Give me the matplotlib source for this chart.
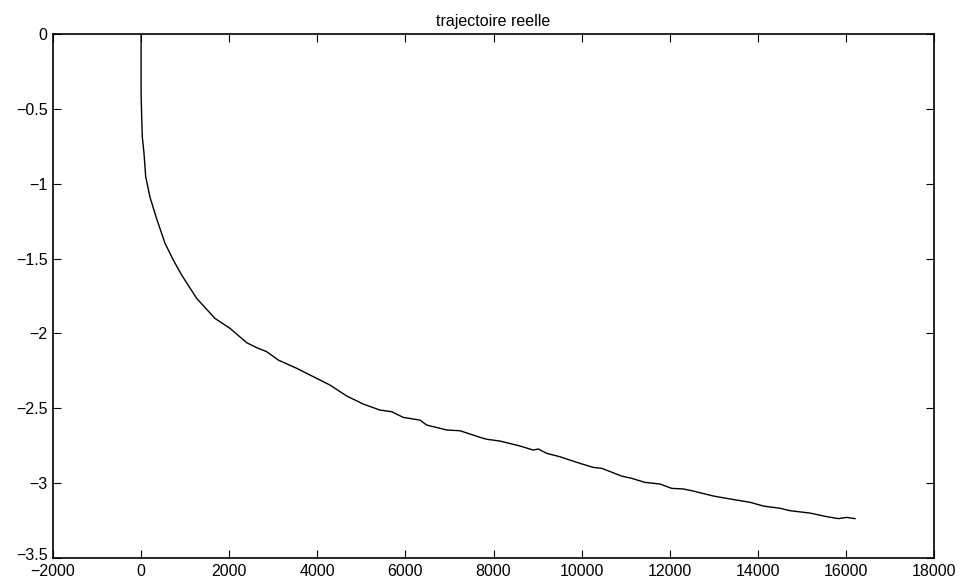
import matplotlib
matplotlib.use('agg')
import matplotlib.pyplot as plt
from matplotlib.transforms import ScaledTranslation

plt.rcParams['font.family'] = ['Liberation Sans', 'DejaVu Sans']

# points (x = step, y = position)
x_pts = [0, 0, 13, 27, 66, 104, 202, 354, 543, 731, 921, 1262, 1678, 2018,
         2397, 2624, 2851, 3115, 3532, 3910, 4288, 4667, 5045, 5423, 5689,
         5953, 6331, 6484, 6937, 7240, 7693, 7846, 8147, 8601, 8903, 9017,
         9207, 9510, 9964, 10266, 10456, 10910, 11137, 11439, 11780, 12046,
         12309, 12536, 12990, 13294, 13823, 14125, 14504, 14731, 15185,
         15564, 15828, 16017, 16207]
y_pts = [0, -0.40, -0.55, -0.686, -0.797, -0.953, -1.09, -1.235, -1.398,
         -1.51, -1.61, -1.766, -1.90, -1.966, -2.062, -2.095, -2.122, -2.178,
         -2.233, -2.289, -2.345, -2.418, -2.472, -2.512, -2.523, -2.561,
         -2.579, -2.612, -2.645, -2.650, -2.694, -2.707, -2.719, -2.752,
         -2.779, -2.772, -2.801, -2.824, -2.868, -2.895, -2.901, -2.953,
         -2.968, -2.995, -3.006, -3.035, -3.039, -3.053, -3.086, -3.102,
         -3.128, -3.153, -3.168, -3.184, -3.20, -3.224, -3.237, -3.229, -3.237]

fig = plt.figure(figsize=(9.67, 5.86), dpi=100)
ax = fig.add_axes([0.0548, 0.0478, 0.9111, 0.8942])
ax.plot(x_pts, y_pts, color='black', linewidth=1.0)

ax.set_xlim(-2000, 18000)
ax.set_ylim(-3.5, 0)
ax.set_xticks(range(-2000, 18001, 2000))
ax.set_yticks([-3.5, -3, -2.5, -2, -1.5, -1, -0.5, 0])
ax.set_yticklabels(['\u22123.5', '\u22123', '\u22122.5', '\u22122', '\u22121.5',
                    '\u22121', '\u22120.5', '0'])
ax.tick_params(direction='in', top=True, right=True, length=6, width=0.8,
               labelsize=11.5)
ax.tick_params(axis='x', pad=4)
ax.tick_params(axis='y', pad=4)
for s in ax.spines.values():
    s.set_linewidth(1.2)
ax.set_title('trajectoire reelle', fontsize=11.5, pad=6)

# lift the bottom y label a little so it sits above "-2000" like in the original
lab = ax.get_yticklabels()[0]
lab.set_transform(lab.get_transform() + ScaledTranslation(0, 3 / 72, fig.dpi_scale_trans))

fig.savefig('out.png', dpi=100)
